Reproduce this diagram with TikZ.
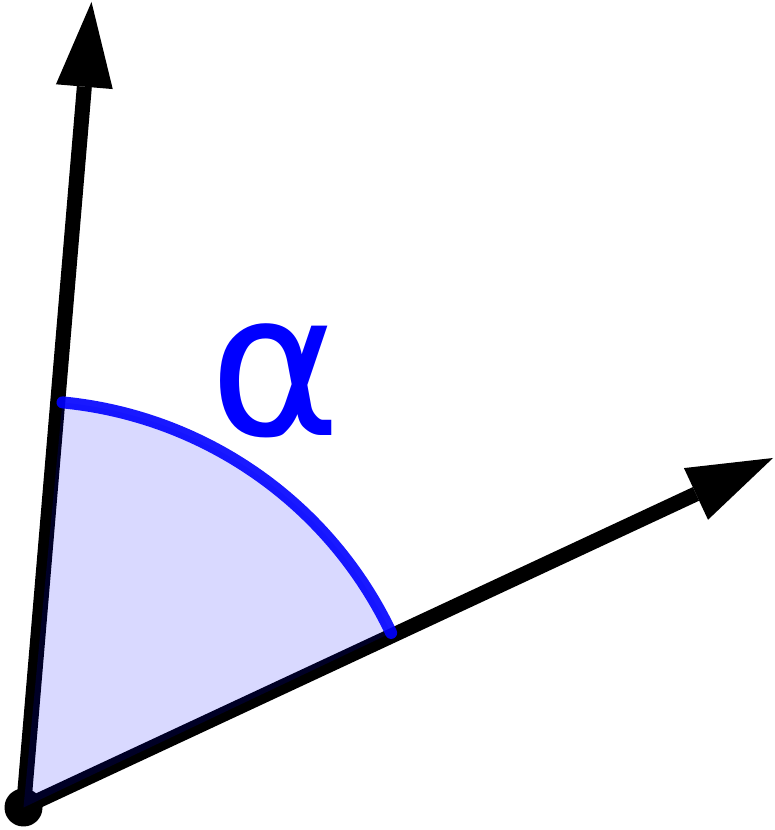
\documentclass[tikz,border=0pt]{standalone}
\usepackage{fontspec}
\newfontfamily\dejavu{DejaVu Sans}
\usetikzlibrary{arrows.meta}
\tikzset{
  axis/.style={line width=15pt, -{Triangle[length=85pt,width=57pt,line width=0pt]}},
  anglefill/.style={fill=blue, fill opacity=0.15},
  anglearc/.style={draw=blue, draw opacity=0.9, line width=12pt, line cap=round},
  anglelabel/.style={text=blue, inner sep=0pt, anchor=base, font=\dejavu\fontsize{200}{200}\selectfont}
}
\begin{document}
\begin{tikzpicture}[x=1pt,y=1pt]
\useasboundingbox (0,0) rectangle (775,830);
\coordinate (O) at (23.5,22.5);
\coordinate (A) at (91.5,828);
\coordinate (B) at (773,372);
\path (O) ++(84.5:407) coordinate (P);
\path (O) ++(25.4:407) coordinate (Q);
\draw[axis] (O) -- (A);
\draw[axis] (O) -- (B);
\fill (O) circle[radius=19];
\path[anglefill] (O) -- (P) arc[start angle=84.5, end angle=25.4, radius=407] -- cycle;
\path[anglearc] (P) arc[start angle=84.5, end angle=25.4, radius=407];
\node[anglelabel] (L) at (275.5,394) {α};
\end{tikzpicture}
\end{document}
